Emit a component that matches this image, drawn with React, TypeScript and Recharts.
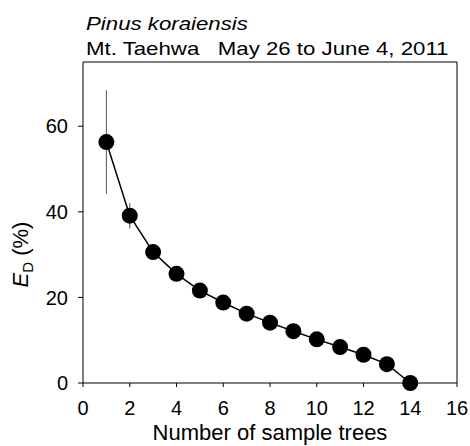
import { ComposedChart, Line, ErrorBar, XAxis, YAxis, Label, ReferenceLine } from 'recharts';

const trees = [1, 2, 3, 4, 5, 6, 7, 8, 9, 10, 11, 12, 13, 14];
const edPercent = [56.3, 39.1, 30.6, 25.5, 21.6, 18.8, 16.2, 14.1, 12.1, 10.2, 8.4, 6.6, 4.4, 0];
const edError = [12.1, 3.0, 0, 0, 0, 0, 0, 0, 0, 0, 0, 0, 0, 0];
const xTicks = [0, 2, 4, 6, 8, 10, 12, 14, 16];
const yTicks = [0, 20, 40, 60];

const FONT = '"Liberation Sans", Arial, sans-serif';

const data = trees.map((n, i) => ({ n, ed: edPercent[i], err: edError[i] }));

function YLabel({ viewBox }: any) {
  const cx = 28;
  const cy = viewBox.y + viewBox.height / 2 + 32;
  return (
    <text
      transform={`rotate(-90, ${cx}, ${cy})`}
      x={cx}
      y={cy}
      textAnchor="middle"
      fontFamily={FONT}
      fontSize={22}
      fill="#000"
    >
      <tspan fontStyle="italic">E</tspan>
      <tspan fontSize={15} dy={5}>D</tspan>
      <tspan dy={-5}> (%)</tspan>
    </text>
  );
}

const titleStyle: any = {
  position: 'absolute',
  left: 86,
  fontSize: 19,
  lineHeight: '22px',
  whiteSpace: 'pre',
  transform: 'scaleX(1.17)',
  transformOrigin: 'left top',
};

export default function App() {
  return (
    <div style={{ position: 'absolute', left: 0, top: 0, width: 470, height: 446, background: '#fff', fontFamily: FONT }}>
      <div style={{ ...titleStyle, top: 13, fontStyle: 'italic' }}>Pinus koraiensis</div>
      <div style={{ ...titleStyle, top: 38 }}>{'Mt. Taehwa   May 26 to June 4, 2011'}</div>
      <ComposedChart
        width={470}
        height={446}
        data={data}
        margin={{ top: 62, right: 13, bottom: 33, left: 34 }}
        style={{ position: 'absolute', left: 0, top: 0 }}
      >
        <XAxis
          dataKey="n"
          type="number"
          domain={[0, 16]}
          ticks={xTicks}
          interval={0}
          height={30}
          tickSize={4}
          tickMargin={14}
          stroke="#000"
          tick={{ fill: '#000', fontSize: 20, fontFamily: FONT }}
        >
          <Label
            value="Number of sample trees"
            position="bottom"
            offset={11}
            style={{ fill: '#000', fontSize: 22, fontFamily: FONT }}
          />
        </XAxis>
        <YAxis
          type="number"
          domain={[0, 75]}
          ticks={yTicks}
          interval={0}
          width={49}
          tickSize={5}
          tickMargin={10}
          stroke="#000"
          tick={{ fill: '#000', fontSize: 20, fontFamily: FONT }}
          label={<YLabel />}
        />
        <ReferenceLine y={75} stroke="#000" strokeWidth={1} ifOverflow="visible" />
        <ReferenceLine x={16} stroke="#000" strokeWidth={1} ifOverflow="visible" />
        <Line
          dataKey="ed"
          stroke="#000"
          strokeWidth={1.5}
          isAnimationActive={false}
          dot={{ r: 8, fill: '#000', stroke: '#000', strokeWidth: 0 }}
          activeDot={false}
        >
          <ErrorBar dataKey="err" width={0} stroke="#555" strokeWidth={1} direction="y" />
        </Line>
      </ComposedChart>
    </div>
  );
}
